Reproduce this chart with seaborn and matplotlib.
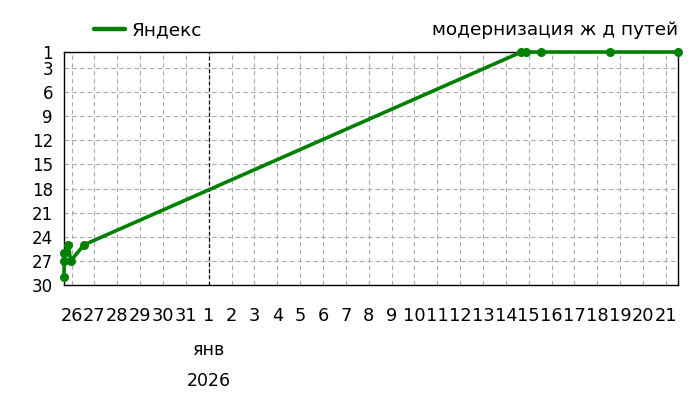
import pandas as pd
import matplotlib
matplotlib.use("Agg")
import matplotlib.pyplot as plt
import matplotlib.dates as mdates
from matplotlib.lines import Line2D
import seaborn as sns

# позиция в выдаче по запросу "модернизация ж д путей"
times = [
    "2025-12-25 16:00", "2025-12-25 16:10", "2025-12-25 16:20",
    "2025-12-25 20:30", "2025-12-25 23:00", "2025-12-26 13:00",
    "2026-01-14 16:20", "2026-01-14 20:40", "2026-01-15 12:30",
    "2026-01-18 13:00", "2026-01-21 12:45",
]
ranks = [29, 27, 26, 25, 27, 25, 1, 1, 1, 1, 1]
series_name = "Яндекс"
query = "модернизация ж д путей"

y_ticks = [1, 3, 6, 9, 12, 15, 18, 21, 24, 27, 30]
day_ticks = pd.date_range("2025-12-26", "2026-01-21", freq="D")
month_label = "янв"
year_label = "2026"
year_start = pd.Timestamp("2026-01-01")

df = pd.DataFrame({"time": pd.to_datetime(times), "rank": ranks})

sns.set_theme(style="white")
plt.rcParams["font.family"] = ["DejaVu Sans"]
plt.rcParams["text.color"] = "black"

fig = plt.figure(figsize=(7, 4), dpi=100)
ax = fig.add_axes([64 / 700, 1 - 285 / 400, 614 / 700, 233 / 400])

green = "#008000"
sns.lineplot(data=df, x="time", y="rank", ax=ax, sort=False, color=green,
             linewidth=2.6, marker="o", markersize=6.5, markeredgewidth=0,
             legend=False, clip_on=False, zorder=5)

ax.set_xlim(df["time"].min(), df["time"].max())
ax.set_ylim(30, 1)
ax.set_yticks(y_ticks)
ax.set_xticks(day_ticks)
ax.xaxis.set_major_formatter(mdates.DateFormatter("%-d"))
ax.tick_params(axis="both", length=0, colors="black")
ax.tick_params(axis="x", pad=16, labelsize=12.8)
ax.tick_params(axis="y", pad=8, labelsize=12)
ax.set_xlabel("")
ax.set_ylabel("")

ax.grid(True, color="#aaaaaa", linestyle=(0, (4, 3)), linewidth=0.8)
ax.axvline(year_start, color="black", linestyle=(0, (3, 2)), linewidth=0.9)
for s in ax.spines.values():
    s.set_color("black")
    s.set_linewidth(1)

ax.annotate(month_label, xy=(year_start, 0), xycoords=("data", "axes fraction"),
            xytext=(0, -47), textcoords="offset points", ha="center", va="center",
            fontsize=12.5)
ax.annotate(year_label, xy=(year_start, 0), xycoords=("data", "axes fraction"),
            xytext=(0, -69), textcoords="offset points", ha="center", va="center",
            fontsize=12.5)

ax.set_title(query, loc="right", fontsize=13.3, pad=12)
handle = Line2D([], [], color=green, linewidth=3.2)
ax.legend([handle], [series_name], loc="lower left", bbox_to_anchor=(0.028, 1.0),
          frameon=False, fontsize=13.3, handlelength=1.65, handletextpad=0.4,
          borderaxespad=0.3)

fig.savefig("out.png", dpi=100)
